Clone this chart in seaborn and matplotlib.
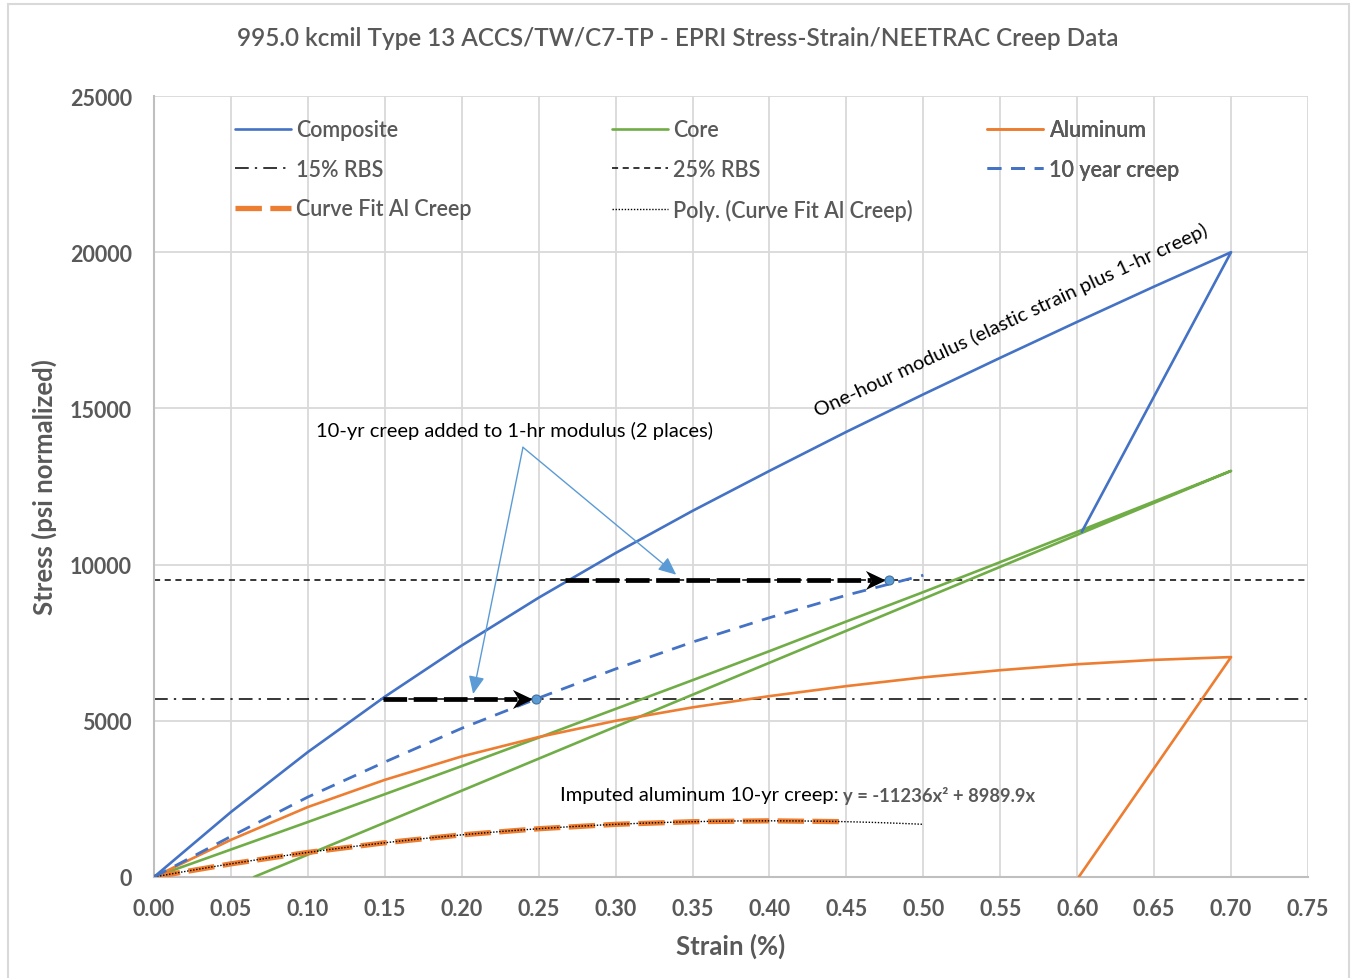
import numpy as np
import matplotlib
matplotlib.use("Agg")
import matplotlib.pyplot as plt
import seaborn as sns
from matplotlib.path import Path
from matplotlib.lines import Line2D
from matplotlib.patches import Rectangle

# ---- data -------------------------------------------------------------
strain = [0.00, 0.05, 0.10, 0.15, 0.20, 0.25, 0.30, 0.35,
          0.40, 0.45, 0.50, 0.55, 0.60, 0.65, 0.70]
composite = [0, 2080, 4000, 5770, 7410, 8940, 10370, 11720,
             13000, 14250, 15450, 16620, 17770, 18900, 20000]
core = [0, 880, 1760, 2650, 3550, 4460, 5380, 6300,
        7230, 8180, 9120, 10080, 11050, 12020, 13000]
aluminum = [0, 1190, 2240, 3110, 3860, 4480, 5000, 5430,
            5790, 6110, 6390, 6620, 6810, 6950, 7040]

# unloading branches (strain, stress) after the 0.70 % peak
composite_unload_strain = [0.603]
composite_unload_stress = [11050]
core_unload_strain = [0.065]
core_unload_stress = [0]
aluminum_unload_strain = [0.601]
aluminum_unload_stress = [0]

creep_strain = [0.00, 0.05, 0.10, 0.15, 0.20, 0.25, 0.30, 0.35, 0.40, 0.45, 0.50]
creep_10yr = [0, 1300, 2560, 3680, 4760, 5730, 6660, 7520, 8300, 9020, 9660]

rbs_strain = [0.00, 0.75]
rbs_15 = 5700
rbs_25 = 9500

al_fit_strain = [0.00, 0.05, 0.10, 0.15, 0.20, 0.25, 0.30, 0.35, 0.40, 0.45]
al_fit_stress = [0, 421, 787, 1096, 1349, 1545, 1686, 1770, 1798, 1770]
trend_a2, trend_a1 = -11236, 8989.9
trend_end = 0.50

rbs_levels = [rbs_15, rbs_25]
one_hr_strain_at_rbs = [0.149, 0.267]
ten_yr_strain_at_rbs = [0.248, 0.478]

x_ticks = [0.00, 0.05, 0.10, 0.15, 0.20, 0.25, 0.30, 0.35,
           0.40, 0.45, 0.50, 0.55, 0.60, 0.65, 0.70, 0.75]
y_ticks = [0, 5000, 10000, 15000, 20000, 25000]

# ---- style ------------------------------------------------------------
sns.set_theme(style="white")
plt.rcParams["font.family"] = ["Lato", "DejaVu Sans"]

BLUE = "#4472C4"
GREEN = "#70AD47"
ORANGE = "#ED7D31"
LIGHT_BLUE = "#5B9BD5"
GRAY_TXT = "#595959"
GRID = "#D9D9D9"

fig = plt.figure(figsize=(13.54, 9.79), dpi=100)
ax = fig.add_axes([154 / 1354, 1 - 878 / 979, 1154 / 1354, 781 / 979])

fig.patches.append(Rectangle((8 / 1354, -0.02), 1341 / 1354, 1.02 - 5 / 979,
                             transform=fig.transFigure, fill=False,
                             edgecolor=GRID, lw=1.5, zorder=0))

LW = 1.9

sns.lineplot(x=strain + composite_unload_strain, y=composite + composite_unload_stress,
             sort=False, estimator=None, color=BLUE, lw=LW, ax=ax, legend=False, zorder=4)
sns.lineplot(x=strain + core_unload_strain, y=core + core_unload_stress,
             sort=False, estimator=None, color=GREEN, lw=LW, ax=ax, legend=False, zorder=3)
sns.lineplot(x=strain + aluminum_unload_strain, y=aluminum + aluminum_unload_stress,
             sort=False, estimator=None, color=ORANGE, lw=LW, ax=ax, legend=False, zorder=3)

# RBS reference levels
ax.plot(rbs_strain, [rbs_15, rbs_15], color="black", lw=1.1,
        linestyle=(0, (9, 4, 1.5, 4)), zorder=2)
ax.plot(rbs_strain, [rbs_25, rbs_25], color="black", lw=1.1,
        linestyle=(0, (4, 3)), zorder=2)

# 10 year creep curve
sns.lineplot(x=creep_strain, y=creep_10yr, sort=False, estimator=None, color=BLUE,
             lw=2.0, linestyle=(0, (5, 3.5)), ax=ax, legend=False, zorder=4)

# aluminium creep fit and its polynomial trendline
sns.lineplot(x=al_fit_strain, y=al_fit_stress, sort=False, estimator=None, color=ORANGE,
             lw=3.8, linestyle=(0, (5, 1.6)), ax=ax, legend=False, zorder=3)
xt = np.linspace(0, trend_end, 120)
ax.plot(xt, trend_a2 * xt ** 2 + trend_a1 * xt, color="black", lw=1.0,
        linestyle=(0, (1, 1.2)), zorder=3)

# creep shift arrows at each RBS level
stealth = Path([(-0.35, 0), (-2.35, 0.95), (-1.75, 0), (-2.35, -0.95), (-0.35, 0)],
               [Path.MOVETO, Path.LINETO, Path.LINETO, Path.LINETO, Path.CLOSEPOLY])
for s0, s1, lvl in zip(one_hr_strain_at_rbs, ten_yr_strain_at_rbs, rbs_levels):
    ax.plot([s0, s1 - 0.012], [lvl, lvl], color="black", lw=3.4,
            linestyle=(0, (5, 1.4)), solid_capstyle="butt", zorder=5)
    ax.plot([s1], [lvl], marker=stealth, ms=34, color="black", mew=0, zorder=6)
    ax.plot([s1], [lvl], marker="o", ms=6.5, color=LIGHT_BLUE,
            markeredgecolor="#41719C", mew=0.8, zorder=7)

# ---- axes -------------------------------------------------------------
ax.set_xlim(0, 0.75)
ax.set_ylim(0, 25000)
ax.set_xticks(x_ticks)
ax.set_yticks(y_ticks)
ax.set_xticklabels([f"{v:.2f}" for v in x_ticks])
ax.set_yticklabels([f"{v}" for v in y_ticks])
ax.grid(True, color=GRID, lw=1.3)
ax.set_axisbelow(True)
ax.tick_params(axis="both", length=0, labelsize=15.5, labelcolor=GRAY_TXT)
ax.tick_params(axis="x", pad=15)
ax.tick_params(axis="y", pad=16)
for lab in ax.get_xticklabels() + ax.get_yticklabels():
    lab.set_fontweight("bold")
for side in ("top", "right"):
    ax.spines[side].set_visible(False)
for side in ("left", "bottom"):
    ax.spines[side].set_color("#BFBFBF")
    ax.spines[side].set_linewidth(1.5)

ax.set_xlabel("Strain (%)", fontsize=18.5, fontweight="bold", color=GRAY_TXT, labelpad=10)
ax.set_ylabel("Stress (psi normalized)", fontsize=18.5, fontweight="bold",
              color=GRAY_TXT, labelpad=9)
fig.suptitle("995.0 kcmil Type 13 ACCS/TW/C7-TP - EPRI Stress-Strain/NEETRAC Creep Data",
             x=678 / 1354, y=1 - 39 / 979, va="center", fontsize=17.5,
             fontweight="semibold", color=GRAY_TXT)

# ---- annotations ------------------------------------------------------
ax.text(0.557, 17830, "One-hour modulus (elastic strain plus 1-hr creep)",
        rotation=25, rotation_mode="anchor", ha="center", va="center",
        fontsize=14.5, color="black", zorder=8)

ax.text(0.2344, 14309, "10-yr creep added to 1-hr modulus (2 places)",
        ha="center", va="center", fontsize=14.5, color="black", zorder=8)
for tip in [(0.2074, 5858), (0.3394, 9677)]:
    ax.annotate("", xy=tip, xytext=(0.2398, 13755),
                arrowprops=dict(arrowstyle="-|>,head_length=0.9,head_width=0.4",
                                color=LIGHT_BLUE, lw=1.0, shrinkA=0, shrinkB=0),
                zorder=8)

lbl = ax.text(0.2636, 2625, "Imputed aluminum 10-yr creep: ", ha="left", va="center",
              fontsize=14.5, color="black", zorder=8)
ax.annotate(f"y = {trend_a2}x\u00b2 + {trend_a1}x", xy=(1, 0.5), xycoords=lbl,
            ha="left", va="center", fontsize=13.2, fontweight="bold",
            color=GRAY_TXT, zorder=8)

# ---- legend (three columns) -----------------------------------------
h = {
    "Composite": Line2D([], [], color=BLUE, lw=LW),
    "Core": Line2D([], [], color=GREEN, lw=LW),
    "Aluminum": Line2D([], [], color=ORANGE, lw=LW),
    "15% RBS": Line2D([], [], color="black", lw=1.1, linestyle=(0, (9, 4, 1.5, 4))),
    "25% RBS": Line2D([], [], color="black", lw=1.1, linestyle=(0, (4, 3))),
    "10 year creep": Line2D([], [], color=BLUE, lw=2.0, linestyle=(0, (5, 3.5))),
    "Curve Fit Al Creep": Line2D([], [], color=ORANGE, lw=3.8, linestyle=(0, (5, 1.6))),
    "Poly. (Curve Fit Al Creep)": Line2D([], [], color="black", lw=1.0,
                                         linestyle=(0, (1, 1.2))),
}
columns = [
    (0.0702, ["Composite", "15% RBS", "Curve Fit Al Creep"]),
    (0.397, ["Core", "25% RBS", "Poly. (Curve Fit Al Creep)"]),
    (0.722, ["Aluminum", "10 year creep"]),
]
for xpos, names in columns:
    leg = ax.legend([h[n] for n in names], names, loc="upper left",
                    bbox_to_anchor=(xpos, 0.970), frameon=False, borderpad=0,
                    borderaxespad=0, handlelength=2.6, handletextpad=0.25,
                    labelspacing=0.86, prop={"size": 15.5, "weight": "semibold"})
    for t in leg.get_texts():
        t.set_color(GRAY_TXT)
    ax.add_artist(leg)

fig.savefig("out.png", dpi=100)
